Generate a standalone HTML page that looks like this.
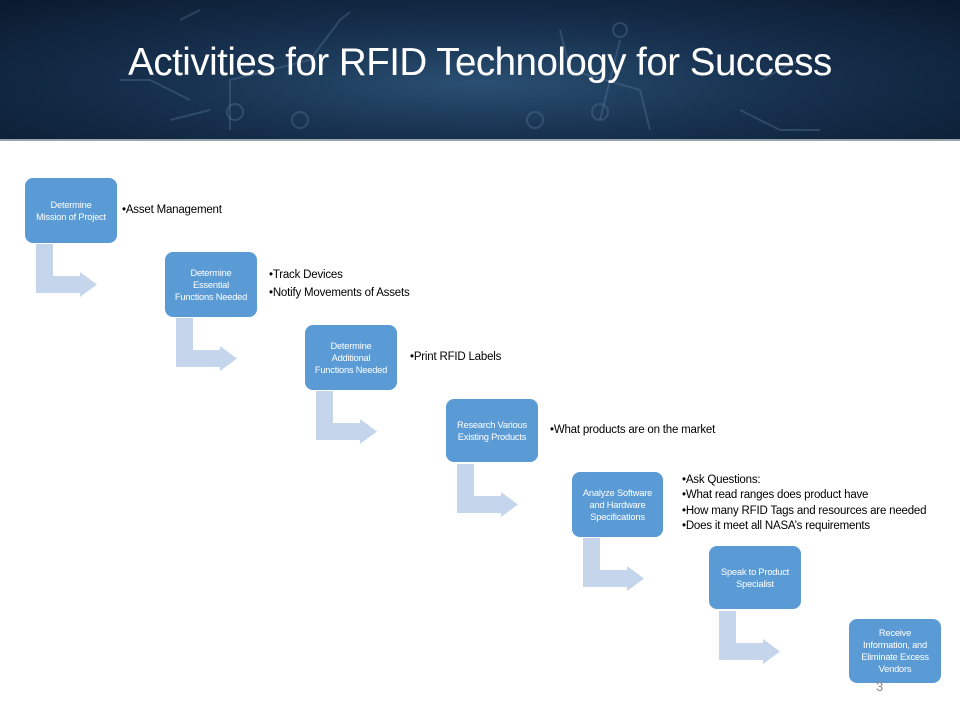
<!DOCTYPE html>
<html><head><meta charset="utf-8"><style>
body{margin:0;width:960px;height:720px;background:#fff;position:relative;overflow:hidden;font-family:"Liberation Sans",sans-serif}
.hdr{position:absolute;left:0;top:0;width:960px;height:139px;background:radial-gradient(ellipse at 50% 60%,#2a4f72 0%,#17314f 45%,#0a1a2e 100%);border-bottom:2px solid #9aa4ad}
.title{position:absolute;left:0;top:41px;width:960px;text-align:center;color:#fff;font-size:38.5px;letter-spacing:-0.5px}
.box{position:absolute;width:92px;height:65px;background:#5b9bd5;border-radius:8px;color:#fff;font-size:9.3px;line-height:12px;display:flex;align-items:center;justify-content:center;text-align:center;letter-spacing:-0.2px}
.bul{position:absolute;font-size:11.5px;line-height:18px;color:#000;letter-spacing:-0.2px;white-space:nowrap}
</style></head><body>
<div class="hdr">
<svg width="960" height="139" style="position:absolute;left:0;top:0" fill="none" stroke="#5c7fa0" stroke-opacity="0.35" stroke-width="2">
<path d="M180 20 L200 10 M230 130 L230 80 L310 60 L340 20 L350 12"/>
<circle cx="235" cy="112" r="8"/><circle cx="300" cy="120" r="8"/>
<path d="M190 100 L150 80 L120 80 M210 110 L170 120"/>
<circle cx="600" cy="112" r="8"/><circle cx="535" cy="120" r="8"/><circle cx="620" cy="30" r="7"/>
<path d="M600 120 L620 40 M650 130 L640 90 L570 70 L560 30"/>
<path d="M760 80 L800 60 M740 110 L780 130 L820 130"/>
</svg>
<div class="title">Activities for RFID Technology for Success</div>
</div>

<svg width="960" height="720" style="position:absolute;left:0;top:0">
<g fill="#c5d6ec">
<polygon points="36,244 53,244 53,276 80,276 80,272 97,284.5 80,297 80,293 36,293"/>
<polygon points="176,318 193,318 193,350 220,350 220,346 237,358.5 220,371 220,367 176,367"/>
<polygon points="316,391 333,391 333,423 360,423 360,419 377,431.5 360,444 360,440 316,440"/>
<polygon points="457,464 474,464 474,496 501,496 501,492 518,504.5 501,517 501,513 457,513"/>
<polygon points="583,538 600,538 600,570 627,570 627,566 644,578.5 627,591 627,587 583,587"/>
<polygon points="719,611 736,611 736,643 763,643 763,639 780,651.5 763,664 763,660 719,660"/>
</g>
</svg>

<div class="box" style="left:25px;top:178px">Determine<br>Mission of Project</div>
<div class="box" style="left:165px;top:252px">Determine<br>Essential<br>Functions Needed</div>
<div class="box" style="left:305px;top:325px">Determine<br>Additional<br>Functions Needed</div>
<div class="box" style="left:446px;top:399px;height:63px">Research Various<br>Existing Products</div>
<div class="box" style="left:572px;top:472px;width:91px">Analyze Software<br>and Hardware<br>Specifications</div>
<div class="box" style="left:709px;top:546px;height:63px">Speak to Product<br>Specialist</div>
<div class="box" style="left:849px;top:619px;height:64px">Receive<br>Information, and<br>Eliminate Excess<br>Vendors</div>

<div class="bul" style="left:122px;top:201px">•Asset Management</div>
<div class="bul" style="left:269px;top:266px">•Track Devices<br>•Notify Movements of Assets</div>
<div class="bul" style="left:410px;top:348px">•Print RFID Labels</div>
<div class="bul" style="left:550px;top:421px">•What products are on the market</div>
<div class="bul" style="left:682px;top:473px;line-height:15.3px">•Ask Questions:<br>•What read ranges does product have<br>•How many RFID Tags and resources are needed<br>•Does it meet all NASA’s requirements</div>
<div style="position:absolute;left:876px;top:679px;font-size:13px;color:#8a8a8a">3</div>
</body></html>
